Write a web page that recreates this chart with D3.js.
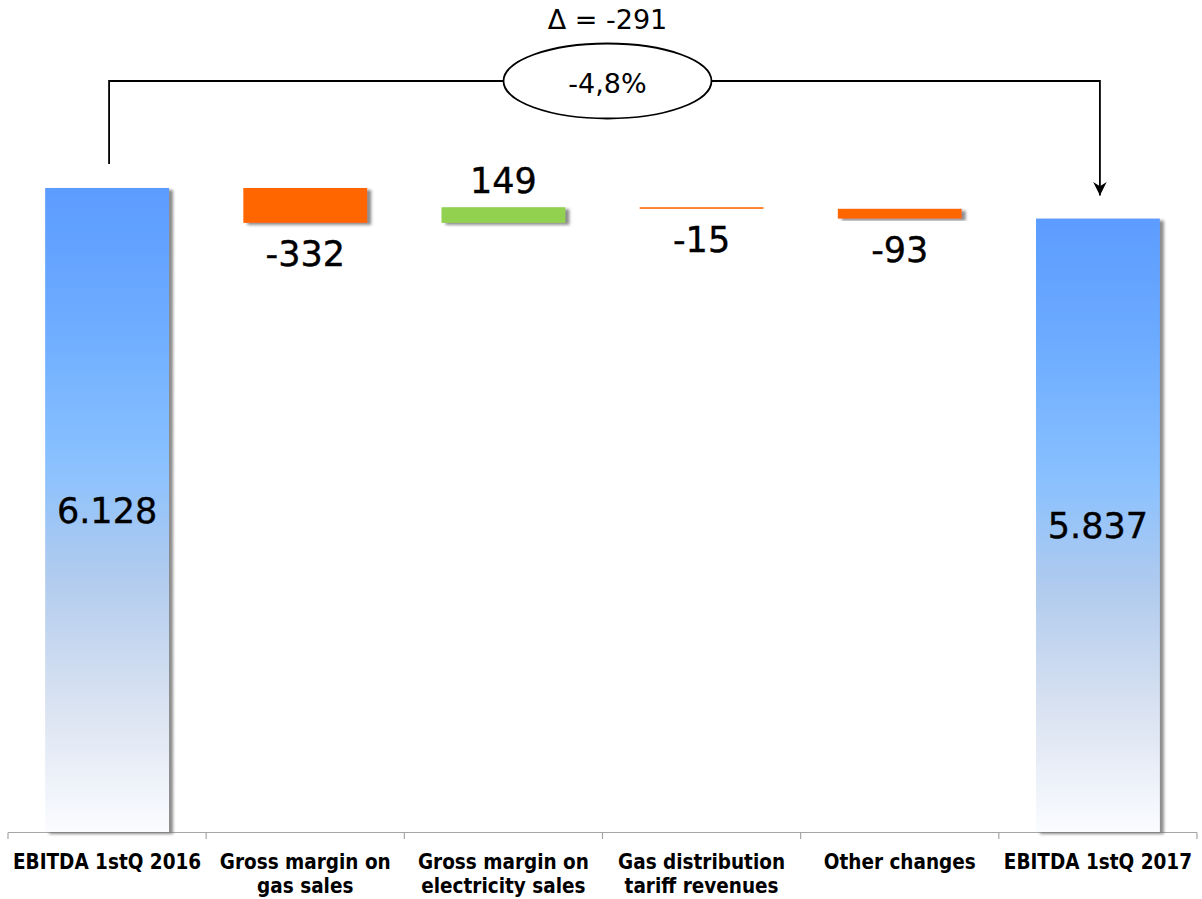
<!DOCTYPE html>
<html>
<head>
<meta charset="utf-8">
<script src="https://cdn.jsdelivr.net/npm/d3@7.9.0/dist/d3.min.js"></script>
<style>
  html, body { margin: 0; padding: 0; background: #fff; }
  svg { display: block; }
  .cat { font-family: "DejaVu Sans Condensed", "DejaVu Sans", sans-serif; font-stretch: condensed; font-weight: bold; font-size: 20.5px; fill: #000; }
  .val { font-family: "DejaVu Sans", Verdana, sans-serif; font-size: 35px; fill: #000; stroke: #000; stroke-width: 0.4px; }
  .note { font-family: "DejaVu Sans", Verdana, sans-serif; font-size: 27px; fill: #000; }
</style>
</head>
<body>
<svg id="chart" width="1202" height="899"></svg>
<script>
// Chart data
const categories = [
  ["EBITDA 1stQ 2016"],
  ["Gross margin on", "gas sales"],
  ["Gross margin on", "electricity sales"],
  ["Gas distribution", "tariff revenues"],
  ["Other changes"],
  ["EBITDA 1stQ 2017"]
];
const values = [6128, -332, 149, -15, -93, 5837];
const kinds = ["total", "delta", "delta", "delta", "delta", "total"];
const valueLabels = ["6.128", "-332", "149", "-15", "-93", "5.837"];
const deltaLabel = "\u0394 = -291";
const pctLabel = "-4,8%";

const svg = d3.select("#chart");

// Build waterfall steps
let running = 0;
const steps = values.map((v, i) => {
  let start, end;
  if (kinds[i] === "total") {
    start = 0;
    end = v;
    running = v;
  } else {
    start = running;
    end = running + v;
    running = end;
  }
  return { i, value: v, start, end, label: valueLabels[i], kind: kinds[i] };
});

const x = d3.scaleBand()
  .domain(d3.range(values.length))
  .range([8, 1197])
  .paddingInner(0.375)
  .paddingOuter(0.1875);

const xEdge = d3.scaleBand()
  .domain(d3.range(values.length))
  .range([8, 1197])
  .padding(0);

const y = d3.scaleLinear().domain([0, 6128]).range([832, 188]);

const defs = svg.append("defs");

const grad = defs.append("linearGradient")
  .attr("id", "blueGrad")
  .attr("x1", 0).attr("y1", 0).attr("x2", 0).attr("y2", 1);
[
  [0, "#5c9cff"],
  [0.2, "#6cabff"],
  [0.42, "#88c0ff"],
  [0.6, "#b0cbee"],
  [0.8, "#d9e2f1"],
  [1, "#fbfcff"]
].forEach(([o, c]) => grad.append("stop").attr("offset", o).attr("stop-color", c));

const shadow = defs.append("filter")
  .attr("id", "shadow")
  .attr("x", "-10%").attr("y", "-10%")
  .attr("width", "130%").attr("height", "130%");
shadow.append("feDropShadow")
  .attr("dx", 4).attr("dy", 2)
  .attr("stdDeviation", 1.6)
  .attr("flood-color", "#777")
  .attr("flood-opacity", 0.85);

const marker = defs.append("marker")
  .attr("id", "arrow")
  .attr("viewBox", "0 0 10 10")
  .attr("refX", 10).attr("refY", 5)
  .attr("markerWidth", 7.5).attr("markerHeight", 7.5)
  .attr("markerUnits", "strokeWidth")
  .attr("orient", "auto");
marker.append("path").attr("d", "M0,0 L10,5 L0,10 L3,5 Z").attr("fill", "#000");

// Axis line and boundary ticks
const axisG = svg.append("g").attr("class", "axis");
axisG.append("line")
  .attr("x1", xEdge.range()[0]).attr("x2", xEdge.range()[1])
  .attr("y1", y(0) + 0.5).attr("y2", y(0) + 0.5)
  .attr("stroke", "#a6a6a6").attr("stroke-width", 1.2);
const edges = xEdge.domain().map(d => xEdge(d)).concat([xEdge.range()[1]]);
axisG.selectAll("line.tick")
  .data(edges)
  .join("line")
  .attr("class", "tick")
  .attr("x1", d => d).attr("x2", d => d)
  .attr("y1", y(0) + 0.5).attr("y2", y(0) + 7)
  .attr("stroke", "#a6a6a6").attr("stroke-width", 1.2);

// Category labels
const catG = svg.append("g");
categories.forEach((lines, i) => {
  const t = catG.append("text")
    .attr("class", "cat")
    .attr("text-anchor", "middle")
    .attr("x", x(i) + x.bandwidth() / 2)
    .attr("y", 869);
  lines.forEach((ln, k) => {
    t.append("tspan")
      .attr("x", x(i) + x.bandwidth() / 2)
      .attr("dy", k === 0 ? 0 : 24)
      .text(ln);
  });
});

// Bars
const colorFor = d => {
  if (d.kind === "total") return "url(#blueGrad)";
  return d.value < 0 ? "#ff6600" : "#92d050";
};

svg.append("g")
  .selectAll("rect")
  .data(steps)
  .join("rect")
  .attr("x", d => x(d.i))
  .attr("width", x.bandwidth())
  .attr("y", d => y(Math.max(d.start, d.end)))
  .attr("height", d => Math.max(1.5, Math.abs(y(d.start) - y(d.end))))
  .attr("fill", colorFor)
  .attr("filter", d => (Math.abs(y(d.start) - y(d.end)) > 3 ? "url(#shadow)" : null));

// Value labels
svg.append("g")
  .selectAll("text")
  .data(steps)
  .join("text")
  .attr("class", "val")
  .attr("text-anchor", "middle")
  .attr("x", d => x(d.i) + x.bandwidth() / 2)
  .attr("y", d => {
    if (d.kind === "total") return (y(d.end) + y(0)) / 2 + 13;
    if (d.value < 0) return y(d.end) + 43;
    return y(d.end) - 14;
  })
  .text(d => d.label);

// Bracket annotation from first total to last total
const xa = x(0) + x.bandwidth() / 2 + 2;
const xb = x(values.length - 1) + x.bandwidth() / 2 + 2;
const yTop = 81;
const cx = (xa + xb) / 2 + 3;

svg.append("path")
  .attr("d", `M${xa},${y(steps[0].end) - 24} V${yTop} H${xb} V${y(steps[steps.length - 1].end) - 23}`)
  .attr("fill", "none")
  .attr("stroke", "#000")
  .attr("stroke-width", 1.8)
  .attr("marker-end", "url(#arrow)");

svg.append("ellipse")
  .attr("cx", cx).attr("cy", yTop)
  .attr("rx", 104).attr("ry", 37.5)
  .attr("fill", "#fff")
  .attr("stroke", "#000")
  .attr("stroke-width", 1.8);

svg.append("text")
  .attr("class", "note")
  .attr("text-anchor", "middle")
  .attr("x", cx).attr("y", yTop + 12)
  .text(pctLabel);

svg.append("text")
  .attr("class", "note")
  .attr("text-anchor", "middle")
  .attr("x", cx).attr("y", 29)
  .text(deltaLabel);
</script>
</body>
</html>
